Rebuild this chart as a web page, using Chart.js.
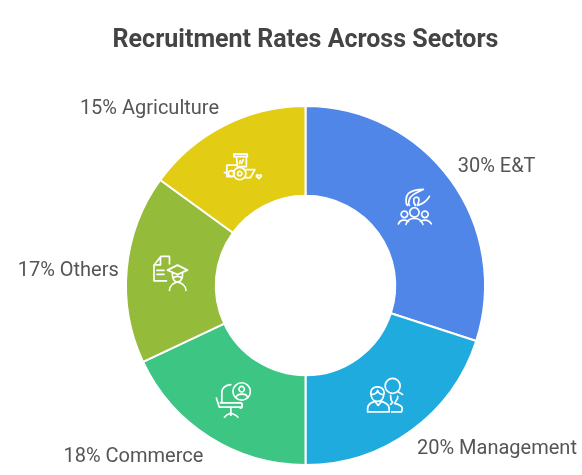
<!DOCTYPE html>
<html><head><meta charset="utf-8">
<style>html,body{margin:0;padding:0;background:#fff}#w{width:582px;height:475px;position:relative}</style>
<script src="https://cdn.jsdelivr.net/npm/chart.js@4"></script>
</head><body><div id="w"><canvas id="c" width="582" height="475"></canvas></div>
<script>
const categories = ['E&T','Management','Commerce','Others','Agriculture'];
const values = [30,20,18,17,15];
const sliceColours = ['#4F86E8','#1FABDE','#3CC583','#95BB3A','#E2CC14'];
const chartTitle = 'Recruitment Rates Across Sectors';

const iconPaths = [
 ['M-7 -1 C-9 -3 -9 -10 -6 -13 C-2 -16 3 -17 9 -17 C6 -15 -3 -13 -5 -7 C-6 -4 -6 -2 -5 -1 M1 -1 C-2 -5 -1 -10 3 -9 C6 -8 4 -4 3 -1 C8 -2 13 -6 15 -10',
  'M4.7 6 A4.7 4.7 0 1 1 -4.7 6 A4.7 4.7 0 1 1 4.7 6 M-6.7 8 A3.3 3.3 0 1 1 -13.3 8 A3.3 3.3 0 1 1 -6.7 8 M13.8 8 A3.3 3.3 0 1 1 7.2 8 A3.3 3.3 0 1 1 13.8 8',
  'M-8.5 18 C-7 13 -3 12 0 12 C3 12 7 13 8.5 18 M-16 17.5 C-14 13 -10 13 -6 15 M6 15 C10 13 14 13 17 17.5'],
 ['M-7.3 -7.5 C-14 -7.5 -14.5 -1 -13.5 1 C-13 5 -10 7 -7.3 7 C-4 7 -1.5 5 -1 1 C0 -1 0 -7.5 -7.3 -7.5 M-13 0 C-10 0 -8 -1 -7 -4 C-6 -1 -4 0 -1.5 0',
  'M-17 17.5 L-17 14 C-17 10 -13 8 -9.5 7 L-6.5 11 L-3 7 C0 8 4.5 10 4.5 14 L4.5 17.5 Z',
  'M15.5 -8.5 A7.5 7.5 0 1 1 0.5 -8.5 A7.5 7.5 0 1 1 15.5 -8.5 M13 -3 L18 0',
  'M6 1 C6 4 6 6 8 8 L6 10 M7 17.5 L17 17.5 L17.7 14 C17.5 11 14 10 10 9 L13 4 L13 2'],
 ['M17 -7.7 A8.7 8.7 0 1 1 -0.4 -7.7 A8.7 8.7 0 1 1 17 -7.7 M11 -10 A2.7 2.7 0 1 1 5.6 -10 A2.7 2.7 0 1 1 11 -10 M3 -2.3 C4 -6 13 -6 14 -2.3',
  'M-2.5 -14.5 C-8 -14 -11 -12 -11.5 -7 L-11.5 3 M-17 -1 L-14 8 L8 8 M-13 3.7 L7 3.7 C10 4 9 9 7 9 M-2.5 9 L-2.5 16 M-9 18 C-7 15.5 -5 15 -2.5 14 C0 15 3 15.5 4.5 18'],
 ['M-17.5 -7.5 L-10.5 -16.5 L-2 -16.5 L-2 -9 M-17.5 -8 L-17.5 8 L-5 8 M-17.5 -8 L-11 -8 L-11 -16 M-14.5 -2.5 L-7.5 -2.5 M-14.5 1.5 L-7.5 1.5',
  'M-4 -2.7 L6 -7.7 L16 -2.7 L6 1.7 Z M1 0 L1 3 C1 6 3 9 6 9 C9 9 11 6 11 3 L11 0 M2 5 C4 3 8 3 10 5',
  'M-2 17.5 C-2 13 2 10 6 9 C10 10 14.5 13 14.5 17.5'],
 ['M-10.5 -11.5 L3 -11.5 L3 -9 L-10.5 -9 Z M-8 -9 L-7 1 M2 -9 L2 1 M-7 1 L2 1 M-5 -2 L-4 -5 M-3 -2 L-1 -6',
  'M-7 -0.5 L-17.5 -0.5 L-17.5 11 L-12 11 M-20 7 L-17.5 7',
  'M1.5 8 A6.2 6.2 0 1 1 -10.9 8 A6.2 6.2 0 1 1 1.5 8 M-2.5 8 A2.2 2.2 0 1 1 -6.9 8 A2.2 2.2 0 1 1 -2.5 8 M-10 8 A3 3 0 1 1 -16 8 A3 3 0 1 1 -10 8',
  'M2 4 L10.5 4 L6 12 L1 12',
  'M14.5 13 L12 10.5 L12.5 9.3 L14.5 10 L16.5 9.3 L17 10.5 Z']
];

const sliceDecor = {
  id:'sliceDecor',
  afterDatasetsDraw(chart,args,opts){
    const {ctx} = chart, arcs = chart.getDatasetMeta(0).data;
    arcs.forEach((arc,i)=>{
      const p = arc.getProps(['x','y','startAngle','endAngle','innerRadius','outerRadius'],true);
      const a = (p.startAngle+p.endAngle)/2, rm=(p.innerRadius+p.outerRadius)/2;
      const cx = Math.cos(a), sy = Math.sin(a);
      ctx.save();
      ctx.translate(p.x+cx*rm, p.y+sy*rm);
      ctx.strokeStyle='#fff'; ctx.lineWidth=1.7; ctx.lineCap='round'; ctx.lineJoin='round';
      iconPaths[i].forEach(d=>ctx.stroke(new Path2D(d)));
      ctx.restore();
      const ex = p.x+cx*p.outerRadius, ey = p.y+sy*p.outerRadius;
      const right = cx>0, n = opts.labelNudge[i];
      ctx.save();
      ctx.font='20px Roboto'; ctx.fillStyle='#555555';
      ctx.textAlign = right?'left':'right'; ctx.textBaseline='middle';
      ctx.fillText(values[i]+'% '+categories[i], ex+(right?7:-7)+n[0], ey+sy*21+n[1]);
      ctx.restore();
    });
  }
};

new Chart(document.getElementById('c'),{
  type:'doughnut',
  data:{labels:categories,datasets:[{data:values,backgroundColor:sliceColours,borderColor:'#ffffff',borderWidth:2}]},
  options:{
    responsive:false,animation:false,cutout:'50%',
    layout:{padding:{top:6,bottom:9,left:29,right:0}},
    plugins:{
      legend:{display:false},tooltip:{enabled:false},
      sliceDecor:{labelNudge:[[0,-1],[-1,1],[1,2],[-1,4],[2,2]]},
      title:{display:true,text:chartTitle,color:'#444444',font:{family:'Roboto',size:25,weight:'bold'},padding:{top:19.5,bottom:49.5}}
    }
  },
  plugins:[sliceDecor]
});
</script></body></html>
